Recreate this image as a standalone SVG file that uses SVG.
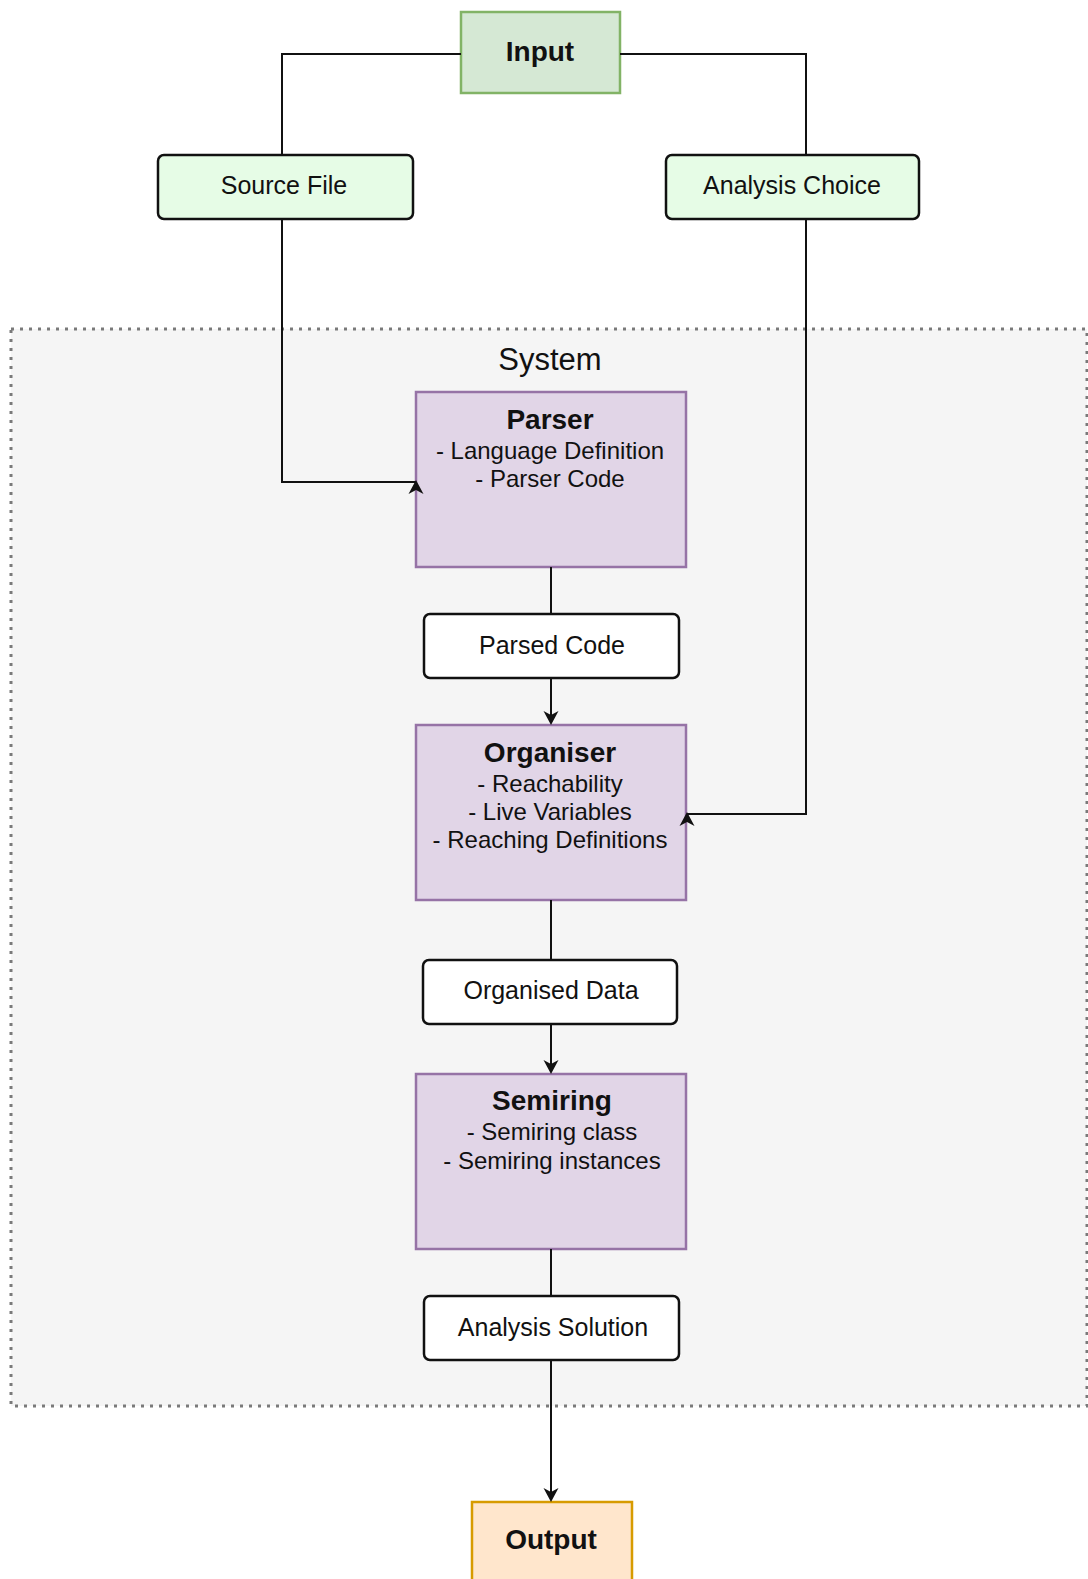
<svg xmlns="http://www.w3.org/2000/svg" xmlns:xlink="http://www.w3.org/1999/xlink" width="1088" height="1579" viewBox="0 0 1088 1579">
  <style>
    text { font-family: "Liberation Sans", Arial, Helvetica, sans-serif; fill: #111; text-anchor: middle; }
    .title { font-size: 28px; font-weight: bold; }
    .item { font-size: 24px; }
    .label { font-size: 25px; }
    .system { font-size: 31px; }
    .module { fill: #e1d5e7; stroke: #9673a6; stroke-width: 2.5; }
    .data { fill: #ffffff; stroke: #111; stroke-width: 2.5; }
    .inputdata { fill: #e6fce6; stroke: #111; stroke-width: 2.5; }
    .wire { fill: none; stroke: #111; stroke-width: 2; }
    .head { fill: #111; }
  </style>
  <defs>
    <!-- classic notched arrowhead, tip at origin, pointing up -->
    <path id="head" d="M0,0 L7.5,14 L0,10 L-7.5,14 Z"/>
  </defs>

  <rect width="1088" height="1579" fill="#ffffff"/>

  <!-- System container -->
  <g id="system">
    <rect x="11" y="329" width="1076" height="1077" fill="#f5f5f5" stroke="#7a7a7a" stroke-width="3" stroke-dasharray="3 6"/>
    <text class="system" x="550" y="370">System</text>
  </g>

  <g id="input">
    <rect x="461" y="12" width="159" height="81" fill="#d5e8d4" stroke="#82b366" stroke-width="2.5"/>
    <text class="title" x="540" y="61">Input</text>
  </g>

  <g id="source-file">
    <rect class="inputdata" x="158" y="155" width="255" height="64" rx="6"/>
    <text class="label" x="284" y="194">Source File</text>
  </g>

  <g id="analysis-choice">
    <rect class="inputdata" x="666" y="155" width="253" height="64" rx="6"/>
    <text class="label" x="792" y="194">Analysis Choice</text>
  </g>

  <g id="parser">
    <rect class="module" x="416" y="392" width="270" height="175"/>
    <text class="title" x="550" y="429">Parser</text>
    <text class="item" x="550" y="459">- Language Definition</text>
    <text class="item" x="550" y="487">- Parser Code</text>
  </g>

  <g id="parsed-code">
    <rect class="data" x="424" y="614" width="255" height="64" rx="6"/>
    <text class="label" x="552" y="654">Parsed Code</text>
  </g>

  <g id="organiser">
    <rect class="module" x="416" y="725" width="270" height="175"/>
    <text class="title" x="550" y="762">Organiser</text>
    <text class="item" x="550" y="792">- Reachability</text>
    <text class="item" x="550" y="820">- Live Variables</text>
    <text class="item" x="550" y="848">- Reaching Definitions</text>
  </g>

  <g id="organised-data">
    <rect class="data" x="423" y="960" width="254" height="64" rx="6"/>
    <text class="label" x="551" y="999">Organised Data</text>
  </g>

  <g id="semiring">
    <rect class="module" x="416" y="1074" width="270" height="175"/>
    <text class="title" x="552" y="1110">Semiring</text>
    <text class="item" x="552" y="1140">- Semiring class</text>
    <text class="item" x="552" y="1169">- Semiring instances</text>
  </g>

  <g id="analysis-solution">
    <rect class="data" x="424" y="1296" width="255" height="64" rx="6"/>
    <text class="label" x="553" y="1336">Analysis Solution</text>
  </g>

  <g id="output">
    <rect x="472" y="1502" width="160" height="81" fill="#ffe6cc" stroke="#d79b00" stroke-width="2.5"/>
    <text class="title" x="551" y="1549">Output</text>
  </g>

  <!-- Connectors, drawn over the node borders so the heads stay visible -->
  <g id="connectors">
    <path class="wire" d="M461,54 H282 V155"/>
    <path class="wire" d="M620,54 H806 V155"/>
    <path class="wire" d="M282,219 V482 H416"/>
    <use xlink:href="#head" class="head" transform="translate(416,480)"/>
    <path class="wire" d="M806,219 V814 H687"/>
    <use xlink:href="#head" class="head" transform="translate(687,812)"/>
    <path class="wire" d="M551,567 V614"/>
    <path class="wire" d="M551,678 V716"/>
    <use xlink:href="#head" class="head" transform="translate(551,725) rotate(180)"/>
    <path class="wire" d="M551,900 V960"/>
    <path class="wire" d="M551,1024 V1065"/>
    <use xlink:href="#head" class="head" transform="translate(551,1074) rotate(180)"/>
    <path class="wire" d="M551,1249 V1296"/>
    <path class="wire" d="M551,1360 V1493"/>
    <use xlink:href="#head" class="head" transform="translate(551,1502) rotate(180)"/>
  </g>
</svg>
